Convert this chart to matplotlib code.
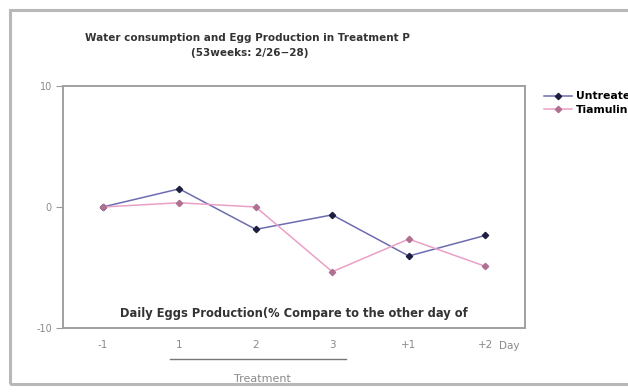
import matplotlib
matplotlib.use("Agg")
import matplotlib.pyplot as plt
from matplotlib.patches import Rectangle
from matplotlib.lines import Line2D

days = ["-1", "1", "2", "3", "+1", "+2"]
x_unit = "Day"
untreated = [0.0, 1.5, -1.85, -0.65, -4.05, -2.35]
tiamulin = [0.0, 0.35, 0.0, -5.35, -2.65, -4.9]
series_names = ["Untreated", "Tiamulin"]
yticks = [-10, 0, 10]

plt.rcParams['font.family'] = ['DejaVu Sans']

W, H = 628, 392
fig = plt.figure(figsize=(W / 100, H / 100), dpi=100)
fig.patch.set_facecolor("white")

# outer frame
fig.patches.append(Rectangle((10 / W, 1 - 384 / H), 700 / W, 374 / H,
                             transform=fig.transFigure, fill=False,
                             edgecolor="#b8b8b8", lw=2.2))

ax = fig.add_axes([63 / W, 1 - 328 / H, (525 - 63) / W, (328 - 86) / H])
x = list(range(len(days)))
l1, = ax.plot(x, untreated, color="#6c6cb0", lw=1.1, marker="D", ms=3.2,
              mfc="#1e1e40", mec="#1e1e40", label=series_names[0])
l2, = ax.plot(x, tiamulin, color="#eaa0c6", lw=1.1, marker="D", ms=3.2,
              mfc="#b07090", mec="#b07090", label=series_names[1])

ax.set_xlim(-0.52, 5.52)
ax.set_ylim(-10, 10)
ax.set_yticks(yticks)
ax.set_yticklabels([str(v) for v in yticks], color="#8a8a8a", fontsize=7)
ax.set_xticks(x)
ax.set_xticklabels(days, color="#8a8a8a", fontsize=7.5)
ax.tick_params(axis="x", length=0, pad=9)
ax.tick_params(axis="y", length=5, width=0.8, color="#999999", pad=3)
for s in ax.spines.values():
    s.set_color("#a0a0a0")
    s.set_linewidth(1.4)

# unit label after the last tick label
ax.annotate(x_unit, xy=(x[-1], -10), xycoords="data",
            xytext=(14, -18), textcoords="offset pixels",
            ha="left", va="center", fontsize=7.5, color="#8a8a8a")

ax.text(0.5, 0.058, "Daily Eggs Production(% Compare to the other day of",
        transform=ax.transAxes, ha="center", va="center", fontsize=8.3,
        fontweight="bold", color="#333333")

fig.text(247 / W, 1 - 38 / H, "Water consumption and Egg Production in Treatment P",
         ha="center", va="center", fontsize=7.5, fontweight="bold", color="#333333")
fig.text(250 / W, 1 - 53 / H, "(53weeks: 2/26\u221228)",
         ha="center", va="center", fontsize=7.5, fontweight="bold", color="#333333")

# treatment bracket
fig.lines.append(Line2D([170 / W, 346 / W], [1 - 359 / H, 1 - 359 / H],
                        transform=fig.transFigure, color="#777777", lw=1))
fig.text(262 / W, 1 - 379 / H, "Treatment", ha="center", va="center",
         fontsize=8, color="#8a8a8a")

fig.legend(handles=[l1, l2], loc="upper left", bbox_to_anchor=(539 / W, 1 - 86 / H),
           frameon=False, handlelength=2.5, handletextpad=0.45,
           labelspacing=0.35, borderpad=0, prop={"weight": "bold", "size": 7.8})

fig.savefig("out.png", dpi=100, facecolor="white")
